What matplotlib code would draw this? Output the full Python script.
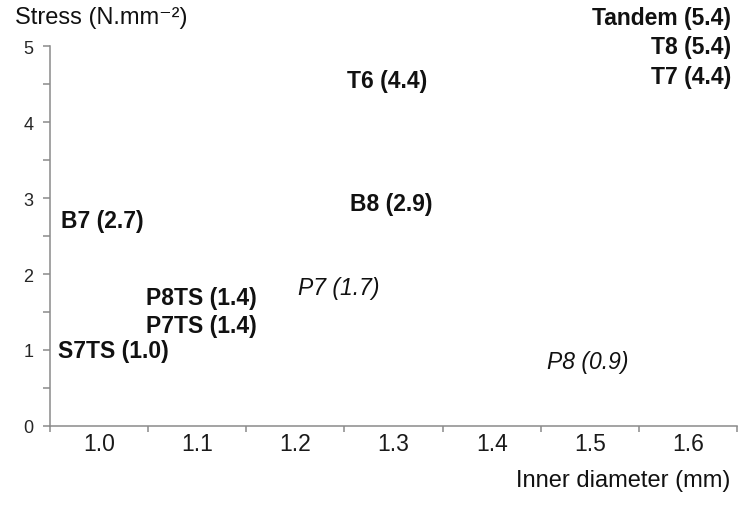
import matplotlib
matplotlib.use('Agg')
import matplotlib.pyplot as plt
import numpy as np

# data: inner diameter (mm) and stress (N.mm-2)
diameters = ['1.0', '1.1', '1.2', '1.3', '1.4', '1.5', '1.6']
names = ['S7TS', 'P7TS', 'P8TS', 'B7', 'B8', 'T6', 'P7', 'P8', 'Tandem', 'T8', 'T7']
name_diam = ['1.0', '1.1', '1.1', '1.0', '1.3', '1.3', '1.2', '1.5', '1.6', '1.6', '1.6']
stress = [1.0, 1.4, 1.4, 2.7, 2.9, 4.4, 1.7, 0.9, 5.4, 5.4, 4.4]
italic = ['P7', 'P8']

# label offsets in pixels (so overlapping labels stay readable)
offsets = [(14, -1), (4, -6), (4, 22), (3, 0), (-2, 2), (-6, 11),
           (43, 9), (-2, -4), (43, -2), (43, -31), (43, 15)]

plt.rcParams['font.family'] = ['Liberation Sans', 'DejaVu Sans']

fig = plt.figure(figsize=(7.5, 5.1), dpi=100)
ax = fig.add_axes([50/750, 83/510, 687/750, 380/510])

gray = '#8a8a8a'
for s in ['top', 'right']:
    ax.spines[s].set_visible(False)
for s in ['left', 'bottom']:
    ax.spines[s].set_color(gray)
    ax.spines[s].set_linewidth(1.1)

ax.set_xlim(-0.5, len(diameters) - 0.5)
ax.set_ylim(0, 5)

ax.set_xticks(range(len(diameters)))
ax.set_xticklabels(diameters, fontsize=16.5)
ax.set_xticks(np.arange(-0.5, len(diameters)), minor=True)
ax.tick_params(axis='x', which='major', length=0, pad=4, colors='#1a1a1a')
ax.tick_params(axis='x', which='minor', length=4.5, width=1.1, color=gray)

ax.set_yticks(range(6))
ax.set_yticks(np.arange(0.5, 5, 1), minor=True)
ax.tick_params(axis='y', which='both', length=5, width=1.1, color=gray)
ax.tick_params(axis='y', which='major', labelsize=13, pad=7, labelcolor='#262626')

for n, d, v, off in zip(names, name_diam, stress, offsets):
    x = diameters.index(d)
    right = n in ['Tandem', 'T8', 'T7']
    ax.annotate(f'{n} ({v:.1f})', xy=(x, v), xytext=off, textcoords='offset pixels',
                ha='right' if right else 'center', va='center', fontsize=16.5,
                fontweight='normal' if n in italic else 'bold',
                fontstyle='italic' if n in italic else 'normal',
                color='#111111', annotation_clip=False)

fig.text(15/750, 1 - 18/510, 'Stress (N.mm\u207b\u00b2)', ha='left', va='center',
         fontsize=17, color='#111111')
fig.text(730/750, 1 - 481/510, 'Inner diameter (mm)', ha='right', va='center',
         fontsize=17, color='#111111')

fig.savefig('out.png', dpi=100, facecolor='white')
